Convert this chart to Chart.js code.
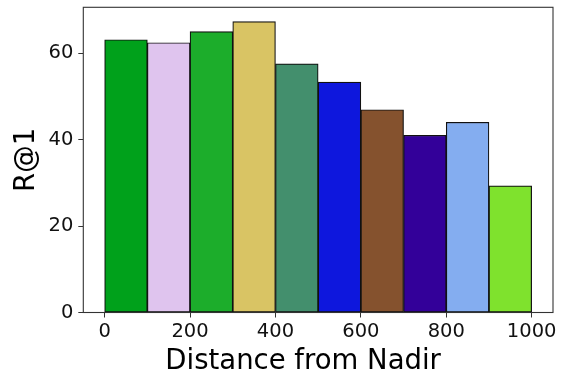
<!DOCTYPE html>
<html>
<head>
<meta charset="utf-8">
<script src="https://cdn.jsdelivr.net/npm/chart.js@4"></script>
<style>
  html, body { margin: 0; padding: 0; background: #fff; }
  #wrap { width: 564px; height: 377px; }
</style>
</head>
<body>
<div id="wrap"><canvas id="histChart"></canvas></div>
<script>
// bin centres (distance from nadir), bins of width 100
const binCenters = [50, 150, 250, 350, 450, 550, 650, 750, 850, 950]
const recallAt1 = [63.1, 62.4, 65.0, 67.3, 57.5, 53.3, 46.9, 41.0, 44.0, 29.3]
const barColors = ['#00A11B', '#DFC4EE', '#1CAD2B', '#D9C464', '#438F6D',
                   '#0E17DD', '#85522E', '#330099', '#84ADF0', '#7FE22D']
const xTicks = [0, 200, 400, 600, 800, 1000]
const yTicks = [0, 20, 40, 60]
const xLabel = 'Distance from Nadir'

const font = 'DejaVu Sans'

// box around the plot area like matplotlib spines, plus the x label
// (the label sits a bit left of the axis centre in the original)
const frame = {
    id: 'frame',
    afterDraw(chart){
        const a = chart.chartArea
        const ctx = chart.ctx
        ctx.save()
        ctx.strokeStyle = '#333'
        ctx.lineWidth = 1.1
        ctx.strokeRect(a.left, a.top, a.right - a.left, a.bottom - a.top)

        ctx.fillStyle = '#000'
        ctx.font = '27.5px "DejaVu Sans"'
        ctx.textAlign = 'center'
        ctx.textBaseline = 'middle'
        ctx.fillText(xLabel, (a.left + a.right) / 2 - 15, 362)
        ctx.restore()
    }
}

const ctx = document.getElementById('histChart').getContext('2d')
const chart = new Chart(ctx, {
    type: 'bar',
    data: {
        datasets: [{
            data: binCenters.map((x, i) => ({x: x, y: recallAt1[i]})),
            backgroundColor: barColors,
            borderColor: '#111',
            borderWidth: 1.2,
            borderSkipped: false,
            barPercentage: 1,
            categoryPercentage: 1
        }]
    },
    options: {
        responsive: true,
        maintainAspectRatio: false,
        animation: false,
        layout: { padding: { top: 7.3, right: 11, left: 0, bottom: 0 } },
        plugins: { legend: { display: false }, tooltip: { enabled: false } },
        scales: {
            x: {
                type: 'linear',
                offset: false,
                min: -50,
                max: 1050,
                afterBuildTicks: s => { s.ticks = xTicks.map(v => ({value: v})) },
                afterFit: s => { s.height = 64.5; s.paddingLeft = 0; s.paddingRight = 0 },
                grid: { offset: false, drawOnChartArea: false, tickLength: 5, color: '#333', tickWidth: 1 },
                border: { display: false },
                ticks: {
                    color: '#111',
                    font: { family: font, size: 19.5 },
                    padding: 3,
                    maxRotation: 0,
                    callback: v => String(v)
                },
                title: { display: false }
            },
            y: {
                min: 0,
                max: 70.6,
                afterBuildTicks: s => { s.ticks = yTicks.map(v => ({value: v})) },
                afterFit: s => { s.width = 83.3; s.paddingTop = 0; s.paddingBottom = 0 },
                grid: { drawOnChartArea: false, tickLength: 5, color: '#333', tickWidth: 1 },
                border: { display: false },
                ticks: { color: '#111', font: { family: font, size: 19.5 }, padding: 5 },
                title: {
                    display: true,
                    text: 'R@1',
                    color: '#000',
                    font: { family: font, size: 27.5, lineHeight: 1 },
                    padding: { top: 13.5, bottom: 0 }
                }
            }
        }
    },
    plugins: [frame]
})
</script>
</body>
</html>
